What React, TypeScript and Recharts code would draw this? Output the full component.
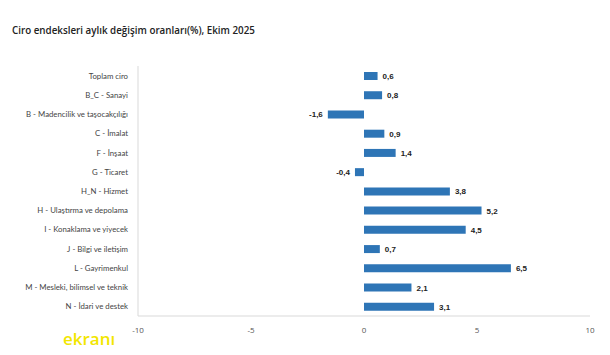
import React from 'react'
import { BarChart, Bar, XAxis, YAxis, LabelList } from 'recharts'

const categories = [
  'Toplam ciro',
  'B_C - Sanayi',
  'B - Madencilik ve taşocakçılığı',
  'C - İmalat',
  'F - İnşaat',
  'G - Ticaret',
  'H_N - Hizmet',
  'H - Ulaştırma ve depolama',
  'I - Konaklama ve yiyecek',
  'J - Bilgi ve iletişim',
  'L - Gayrimenkul',
  'M - Mesleki, bilimsel ve teknik',
  'N - İdari ve destek',
]
const changes = [0.6, 0.8, -1.6, 0.9, 1.4, -0.4, 3.8, 5.2, 4.5, 0.7, 6.5, 2.1, 3.1]
const xTicks = [-10, -5, 0, 5, 10]

const chartData = categories.map((name, i) => ({ name, value: changes[i] }))

const fmt = (v: number) => String(v).replace('.', ',')

const ValueLabel = (props: any) => {
  const { x, y, width, height, value } = props
  const neg = value < 0
  const left = Math.min(x, x + width)
  const right = Math.max(x, x + width)
  return (
    <text
      x={neg ? left - 5 : right + 5}
      y={y + height / 2}
      dy={3}
      textAnchor={neg ? 'end' : 'start'}
      fontSize={8}
      fontWeight="bold"
      fill="#222"
      fontFamily="Arial, Liberation Sans, sans-serif"
    >
      {fmt(value)}
    </text>
  )
}

const CategoryTick = (props: any) => {
  const { x, y, payload } = props
  return (
    <text x={x - 2} y={y} dy={3} textAnchor="end" fontSize={7.8} fill="#444" fontFamily="Lato, sans-serif">
      {payload.value}
    </text>
  )
}

export default function App() {
  return (
    <div style={{ position: 'absolute', left: 0, top: 0, width: 610, height: 355, background: '#fff', fontFamily: '"Open Sans", sans-serif' }}>
      <div style={{ position: 'absolute', left: 12, top: 24, fontSize: 9.8, fontWeight: 600, color: '#222' }}>
        Ciro endeksleri aylık değişim oranları(%), Ekim 2025
      </div>
      <BarChart
        width={610}
        height={355}
        data={chartData}
        layout="vertical"
        margin={{ top: 66, right: 20, bottom: 0, left: 0 }}
      >
        <XAxis
          type="number"
          domain={[-10, 10]}
          ticks={xTicks}
          tickLine={false}
          axisLine={{ stroke: '#d9d9d9' }}
          tick={{ fontSize: 8, fill: '#555' }}
          tickMargin={5}
          height={39}
        />
        <YAxis
          type="category"
          dataKey="name"
          width={138}
          tickLine={false}
          axisLine={{ stroke: '#d9d9d9' }}
          tick={CategoryTick}
          interval={0}
        />
        <Bar dataKey="value" fill="#2E75B6" barSize={8} isAnimationActive={false}>
          <LabelList dataKey="value" content={ValueLabel} />
        </Bar>
      </BarChart>
      <div style={{ position: 'absolute', left: 63, top: 327, fontSize: 17, fontWeight: 600, color: '#f2e600', fontFamily: '"Open Sans", sans-serif' }}>
        ekranı
      </div>
    </div>
  )
}
